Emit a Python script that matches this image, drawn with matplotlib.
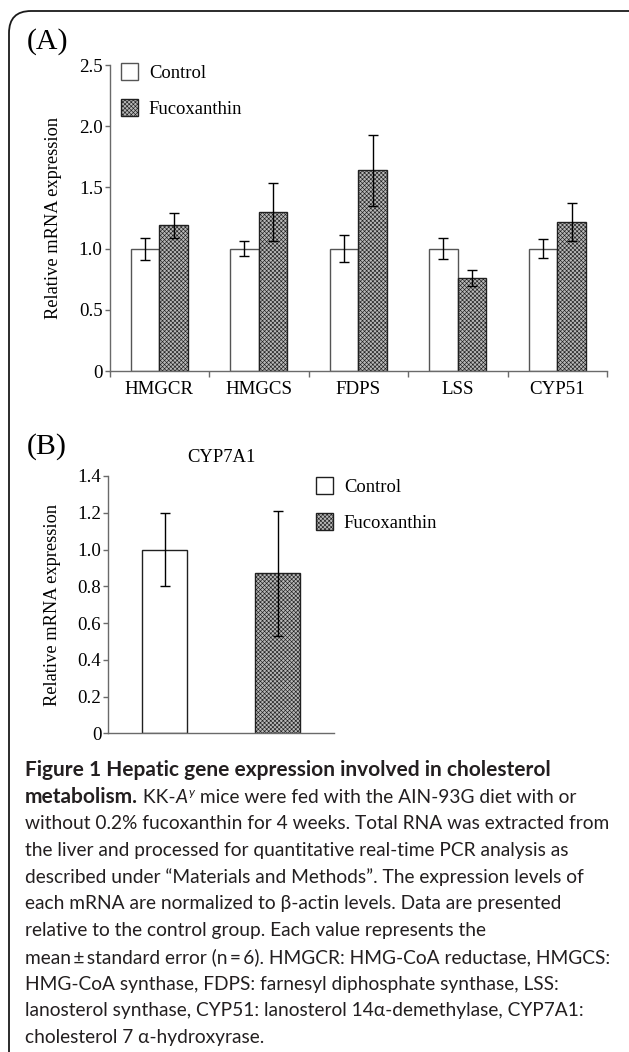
import matplotlib
matplotlib.use("Agg")
import matplotlib.pyplot as plt
import matplotlib.patches as mpatches
import matplotlib.transforms as mtransforms
import numpy as np

# data
genes = ["HMGCR", "HMGCS", "FDPS", "LSS", "CYP51"]
control_a = [1.0, 1.0, 1.0, 1.0, 1.0]
control_a_err = [0.09, 0.06, 0.11, 0.085, 0.08]
fuco_a = [1.19, 1.30, 1.64, 0.76, 1.22]
fuco_a_err = [0.10, 0.24, 0.29, 0.065, 0.155]

group_b = ["Control", "Fucoxanthin"]
values_b = [1.0, 0.87]
errors_b = [0.20, 0.34]

series_names = ["Control", "Fucoxanthin"]

caption_head = "Figure 1 Hepatic gene expression involved in cholesterol"
caption_lines = [
    "without 0.2% fucoxanthin for 4 weeks. Total RNA was extracted from",
    "the liver and processed for quantitative real-time PCR analysis as",
    "described under \u201cMaterials and Methods\u201d. The expression levels of",
    "each mRNA are normalized to \u03b2-actin levels. Data are presented",
    "relative to the control group. Each value represents the",
    "mean\u2009\u00b1\u2009standard error (n\u2009=\u20096). HMGCR: HMG-CoA reductase, HMGCS:",
    "HMG-CoA synthase, FDPS: farnesyl diphosphate synthase, LSS:",
    "lanosterol synthase, CYP51: lanosterol 14\u03b1-demethylase, CYP7A1:",
    "cholesterol 7 \u03b1-hydroxyrase.",
]

W, H = 629, 1052
serif = ["Liberation Serif", "DejaVu Serif"]
sans = ["Lato", "DejaVu Sans"]
plt.rcParams["font.family"] = serif
plt.rcParams["hatch.linewidth"] = 0.45
plt.rcParams["axes.linewidth"] = 1.0

fig = plt.figure(figsize=(W / 100, H / 100), dpi=100)


def box(left, top, right, bottom):
    return [left / W, 1 - bottom / H, (right - left) / W, (bottom - top) / H]


spine_col = "#6a6a6a"
face_fuco = "#b8b8b8"
tick_fs = 13.6
err_kw = dict(ecolor="black", elinewidth=1, capsize=3.5, capthick=1)


def style_axes(ax):
    for s in ["top", "right"]:
        ax.spines[s].set_visible(False)
    for s in ["left", "bottom"]:
        ax.spines[s].set_color(spine_col)
    ax.tick_params(axis="y", direction="out", length=3.5, width=1,
                   color=spine_col, labelsize=tick_fs, pad=1.5)
    ax.set_ylabel("Relative mRNA expression", fontsize=13.2, labelpad=12)


def fmt(v, pos):
    return "0" if v == 0 else "%.1f" % v


leg_kw = dict(frameon=False, fontsize=13.4, handlelength=0.9, handleheight=1.0,
              handletextpad=0.6, labelspacing=0.95, borderpad=0, borderaxespad=0)

# ---------- panel A ----------
axA = fig.add_axes(box(109.5, 65, 607, 371))
x = np.arange(len(genes)) + 0.5
w = 0.287
axA.bar(x - w / 2, control_a, w, yerr=control_a_err, color="white",
        edgecolor="#555555", linewidth=1.0, label=series_names[0],
        error_kw=err_kw)
axA.bar(x + w / 2, fuco_a, w, yerr=fuco_a_err, color=face_fuco,
        edgecolor="#202020", hatch="xxxxxxxx", linewidth=1.0,
        label=series_names[1], error_kw=err_kw)
axA.set_xlim(0, len(genes))
axA.set_ylim(0, 2.5)
axA.set_yticks([0, 0.5, 1.0, 1.5, 2.0, 2.5])
axA.yaxis.set_major_formatter(plt.FuncFormatter(fmt))
axA.set_xticks(np.arange(len(genes) + 1))
axA.set_xticklabels([])
axA.set_xticks(x, minor=True)
axA.set_xticklabels(genes, minor=True, fontsize=tick_fs)
axA.tick_params(axis="x", which="major", direction="out", length=4, width=1,
                color=spine_col)
axA.tick_params(axis="x", which="minor", length=0, pad=7)
style_axes(axA)
axA.legend(loc="upper left", bbox_to_anchor=(121 / W, 1 - 63 / H),
           bbox_transform=fig.transFigure, **leg_kw)

fig.text(27 / W, 1 - 42 / H, "(A)", fontsize=21.5, va="center", ha="left")

# ---------- panel B ----------
axB = fig.add_axes(box(108.3, 476, 334, 733.3))
xb = np.arange(len(group_b)) + 0.5
wb = 0.4
axB.bar(xb[0], values_b[0], wb, yerr=errors_b[0], color="white",
        edgecolor="#202020", linewidth=1.0, label=series_names[0],
        error_kw=err_kw)
axB.bar(xb[1], values_b[1], wb, yerr=errors_b[1], color=face_fuco,
        edgecolor="#202020", hatch="xxxxxxxx", linewidth=1.0,
        label=series_names[1], error_kw=err_kw)
axB.set_xlim(0, len(group_b))
axB.set_ylim(0, 1.4)
axB.set_yticks(np.arange(0, 1.41, 0.2))
axB.yaxis.set_major_formatter(plt.FuncFormatter(fmt))
axB.set_xticks([])
style_axes(axB)
axB.set_title("CYP7A1", fontsize=13.4, pad=10)
axB.legend(loc="upper left", bbox_to_anchor=(316 / W, 1 - 477 / H),
           bbox_transform=fig.transFigure, **leg_kw)

fig.text(27 / W, 1 - 447 / H, "(B)", fontsize=21.5, va="center", ha="left")

# ---------- frame ----------
frame = mpatches.FancyBboxPatch((9, -60), 700, H - 11 + 60,
                                boxstyle="round,pad=0,rounding_size=22",
                                transform=mtransforms.IdentityTransform(),
                                fill=False, edgecolor="#1a1a1a", linewidth=1.3)
fig.add_artist(frame)

# ---------- caption ----------
cap_col = "#231f20"
cap_fs = 13.8
head_fs = 15.0
x0 = 25
base0 = 776
step = 26.7
renderer = fig.canvas.get_renderer()


def put(px, py, s, **kw):
    t = fig.text(px / W, 1 - py / H, s, fontsize=kw.pop("fontsize", cap_fs),
                 family=sans, color=cap_col, va="baseline", ha="left", **kw)
    bb = t.get_window_extent(renderer)
    return px + bb.width


put(x0, base0, caption_head, weight="bold", fontsize=head_fs)
xx = put(x0, base0 + step, "metabolism.", weight="bold", fontsize=head_fs)
xx = put(xx, base0 + step, " KK-")
xx = put(xx, base0 + step, "A", style="italic")
xx = put(xx + 1, base0 + step - 7, "y", style="italic", fontsize=cap_fs * 0.65)
put(xx, base0 + step, " mice were fed with the AIN-93G diet with or")
for i, line in enumerate(caption_lines):
    put(x0, base0 + step * (i + 2), line)

fig.savefig("out.png", dpi=100)
